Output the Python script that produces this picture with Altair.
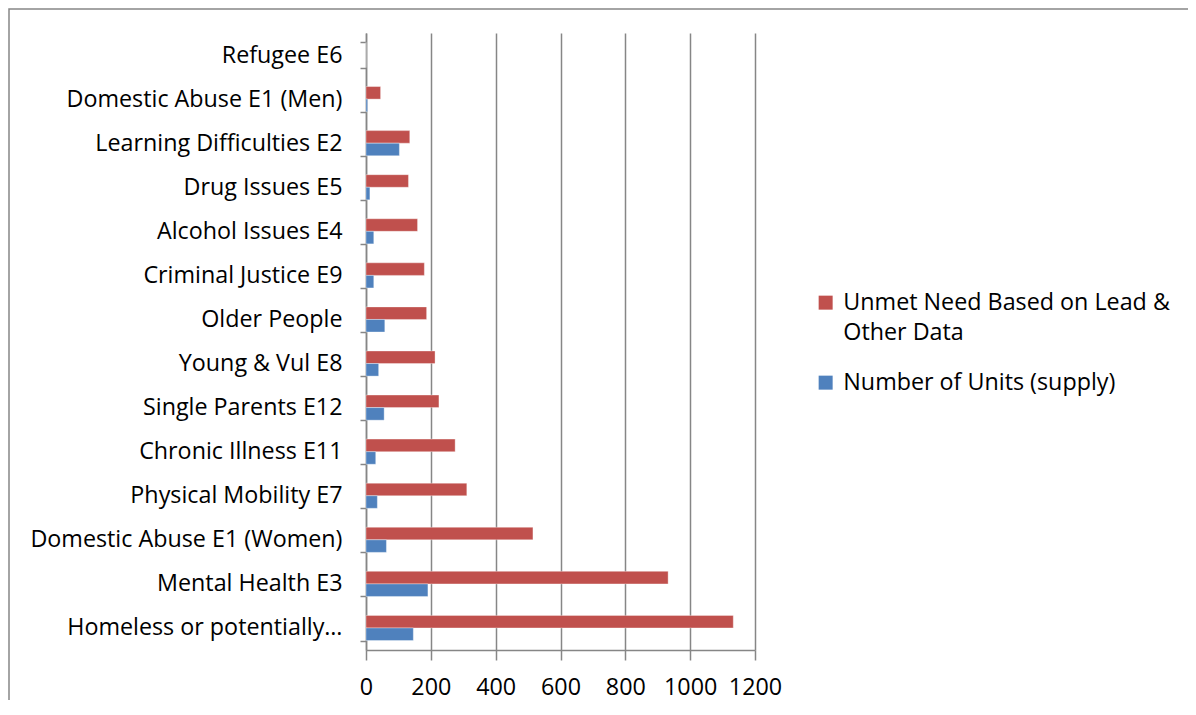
import altair as alt
import pandas as pd

categories = ["Refugee E6", "Domestic Abuse E1 (Men)", "Learning Difficulties E2",
              "Drug Issues  E5", "Alcohol Issues E4", "Criminal Justice E9",
              "Older People", "Young & Vul E8", "Single Parents E12",
              "Chronic Illness E11", "Physical Mobility E7",
              "Domestic Abuse E1 (Women)", "Mental Health E3",
              "Homeless or potentially\u2026"]
unmet_need = [0, 45, 135, 131, 159, 180, 187, 213, 225, 275, 311, 515, 932, 1133]
units_supply = [0, 5, 103, 12, 24, 24, 58, 39, 56, 30, 35, 63, 191, 146]
series = ["Unmet Need Based on Lead & Other Data", "Number of Units (supply)"]
colors = ["#C0504D", "#4F81BD"]
x_ticks = [0, 200, 400, 600, 800, 1000, 1200]

rows = []
for c, u, s in zip(categories, unmet_need, units_supply):
    rows.append({"cat": c, "series": series[0], "value": u})
    rows.append({"cat": c, "series": series[1], "value": s})
df = pd.DataFrame(rows)

FONT = "Open Sans"
FS = 23.3
GRAY = "#868686"

bars = alt.Chart(df).mark_bar(stroke="white", strokeOpacity=0.35, strokeWidth=1).encode(
    y=alt.Y("cat:N", sort=categories, title=None,
            scale=alt.Scale(paddingInner=0.43, paddingOuter=0.215),
            axis=alt.Axis(labelFont=FONT, labelFontSize=FS, labelColor="black",
                          domainColor=GRAY, domainWidth=1.5, tickColor=GRAY,
                          tickWidth=1.5, tickSize=6, tickBand="extent",
                          labelPadding=18, labelLimit=400, grid=False)),
    yOffset=alt.YOffset("series:N", sort=series),
    x=alt.X("value:Q", title=None,
            scale=alt.Scale(domain=[0, 1200], nice=False),
            axis=alt.Axis(values=x_ticks, format="d", labelFont=FONT, labelFontSize=FS,
                          labelColor="black", domainColor=GRAY, domainWidth=1.5,
                          tickColor=GRAY, tickWidth=1.5, tickSize=10,
                          labelPadding=16, grid=True, gridColor=GRAY, gridWidth=1.5,
                          labelFlush=False)),
    color=alt.Color("series:N", scale=alt.Scale(domain=series, range=colors),
                    legend=alt.Legend(
                        title=None, orient="none", legendX=448, legendY=258,
                        symbolType="square", symbolSize=196, symbolStrokeWidth=0,
                        labelFont=FONT, labelFontSize=FS, labelColor="black",
                        labelOffset=6, labelLimit=500, rowPadding=26,
                        labelExpr="datum.label == 'Unmet Need Based on Lead & Other Data' ? ['Unmet Need Based on Lead &', 'Other Data'] : datum.label")),
)

frame = alt.Chart(alt.Data(values=[{"a": 1}])).mark_rect(
    fillOpacity=0, stroke=GRAY, strokeWidth=1.5).encode(
    x=alt.value(-357), x2=alt.value(1200), y=alt.value(-24), y2=alt.value(1200))

chart = alt.layer(frame, bars).properties(
    width=389, height=617,
    autosize=alt.AutoSizeParams(type="none"),
    padding={"left": 358, "top": 25, "right": 433, "bottom": 50},
).configure(style={"guide-label": {"lineHeight": 30}}).configure_view(strokeWidth=0)

chart.save("out.html", embed_options={"renderer": "svg", "actions": False})
